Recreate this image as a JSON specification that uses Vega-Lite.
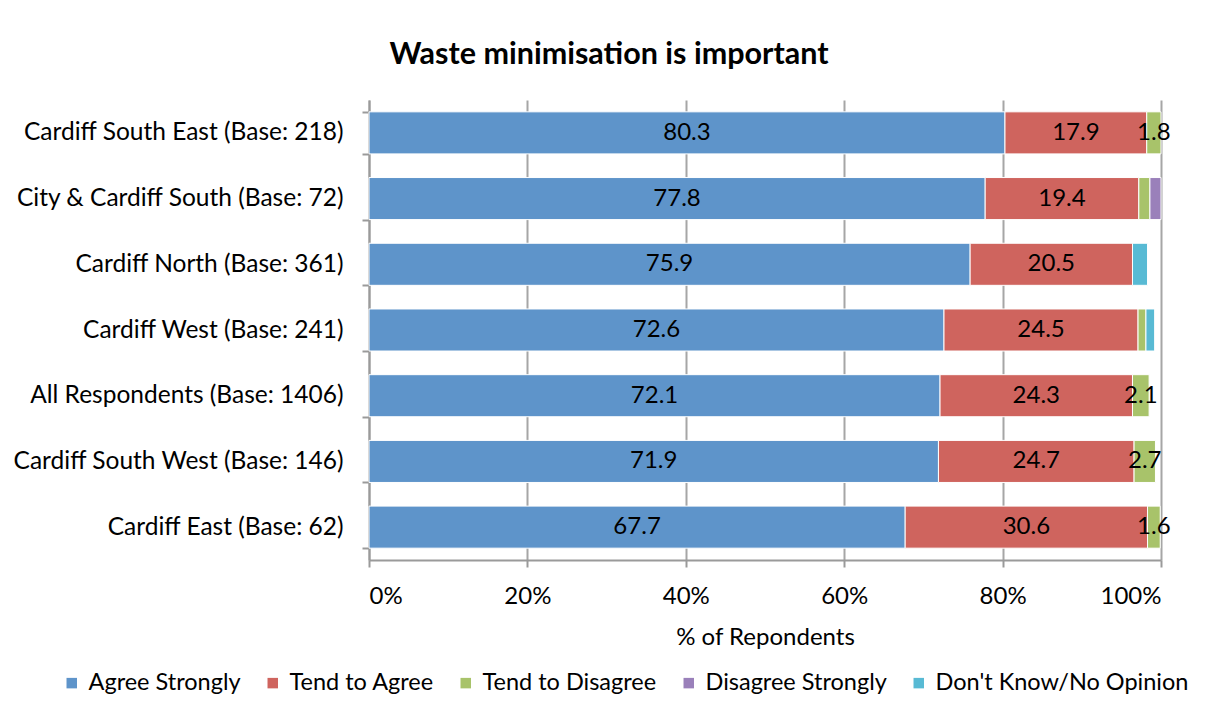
{
  "$schema": "https://vega.github.io/schema/vega-lite/v6.json",
  "width": 792,
  "height": 460,
  "autosize": {"type": "none"},
  "padding": {"left": 369, "top": 100, "right": 48, "bottom": 158},
  "background": "white",
  "title": {
    "text": "Waste minimisation is important",
    "font": "Lato",
    "fontSize": 30.5,
    "fontWeight": "bold",
    "color": "black",
    "anchor": "middle",
    "dx": -156,
    "offset": 17
  },
  "data": {
    "values": [
      {"region": "Cardiff South East (Base: 218)", "cat": "Agree Strongly", "value": 80.3},
      {"region": "Cardiff South East (Base: 218)", "cat": "Tend to Agree", "value": 17.9},
      {"region": "Cardiff South East (Base: 218)", "cat": "Tend to Disagree", "value": 1.8},
      {"region": "City & Cardiff South (Base: 72)", "cat": "Agree Strongly", "value": 77.8},
      {"region": "City & Cardiff South (Base: 72)", "cat": "Tend to Agree", "value": 19.4},
      {"region": "City & Cardiff South (Base: 72)", "cat": "Tend to Disagree", "value": 1.4},
      {"region": "City & Cardiff South (Base: 72)", "cat": "Disagree Strongly", "value": 1.4},
      {"region": "Cardiff North (Base: 361)", "cat": "Agree Strongly", "value": 75.9},
      {"region": "Cardiff North (Base: 361)", "cat": "Tend to Agree", "value": 20.5},
      {"region": "Cardiff North (Base: 361)", "cat": "Don't Know/No Opinion", "value": 1.9},
      {"region": "Cardiff West (Base: 241)", "cat": "Agree Strongly", "value": 72.6},
      {"region": "Cardiff West (Base: 241)", "cat": "Tend to Agree", "value": 24.5},
      {"region": "Cardiff West (Base: 241)", "cat": "Tend to Disagree", "value": 1.0},
      {"region": "Cardiff West (Base: 241)", "cat": "Don't Know/No Opinion", "value": 1.1},
      {"region": "All Respondents (Base: 1406)", "cat": "Agree Strongly", "value": 72.1},
      {"region": "All Respondents (Base: 1406)", "cat": "Tend to Agree", "value": 24.3},
      {"region": "All Respondents (Base: 1406)", "cat": "Tend to Disagree", "value": 2.1},
      {"region": "Cardiff South West (Base: 146)", "cat": "Agree Strongly", "value": 71.9},
      {"region": "Cardiff South West (Base: 146)", "cat": "Tend to Agree", "value": 24.7},
      {"region": "Cardiff South West (Base: 146)", "cat": "Tend to Disagree", "value": 2.7},
      {"region": "Cardiff East (Base: 62)", "cat": "Agree Strongly", "value": 67.7},
      {"region": "Cardiff East (Base: 62)", "cat": "Tend to Agree", "value": 30.6},
      {"region": "Cardiff East (Base: 62)", "cat": "Tend to Disagree", "value": 1.6}
    ]
  },
  "transform": [
    {"calculate": "indexof([\"Agree Strongly\",\"Tend to Agree\",\"Tend to Disagree\",\"Disagree Strongly\",\"Don't Know/No Opinion\"], datum.cat)", "as": "ord"},
    {"stack": "value", "groupby": ["region"], "sort": [{"field": "ord", "order": "ascending"}], "as": ["x0", "x1"]},
    {"calculate": "(datum.x0 + datum.x1) / 2", "as": "mid"}
  ],
  "encoding": {
    "y": {
      "field": "region",
      "type": "nominal",
      "sort": null,
      "scale": {"paddingInner": 0.36, "paddingOuter": 0.18},
      "axis": {
        "title": null,
        "labelFont": "Lato",
        "labelFontSize": 24.5,
        "labelColor": "black",
        "labelPadding": 19,
        "tickBand": "extent",
        "tickSize": 7,
        "tickColor": "#9a9a9a",
        "tickWidth": 2,
        "domainColor": "#9a9a9a",
        "domainWidth": 2,
        "labelLimit": 400
      }
    }
  },
  "layer": [
    {
      "mark": {"type": "bar", "stroke": "white", "strokeWidth": 1},
      "encoding": {
        "x": {
          "field": "x0",
          "type": "quantitative",
          "scale": {"domain": [0, 100], "nice": false},
          "axis": {
            "values": [0, 20, 40, 60, 80, 100],
            "labelExpr": "datum.value + '%'",
            "title": "% of Repondents",
            "titleFont": "Lato",
            "titleFontSize": 24,
            "titleFontWeight": "normal",
            "titleColor": "black",
            "titlePadding": 17,
            "labelFont": "Lato",
            "labelFontSize": 24,
            "labelColor": "black",
            "labelPadding": 17,
            "tickSize": 7,
            "tickColor": "#9a9a9a",
            "tickWidth": 2,
            "domainColor": "#9a9a9a",
            "domainWidth": 2,
            "grid": true,
            "gridColor": "#a6a6a6",
            "gridWidth": 2
          }
        },
        "x2": {"field": "x1"},
        "color": {
          "field": "cat",
          "type": "nominal",
          "scale": {
            "domain": ["Agree Strongly", "Tend to Agree", "Tend to Disagree", "Disagree Strongly", "Don't Know/No Opinion"],
            "range": ["#5e94ca", "#cf645e", "#a8c36a", "#9a80ba", "#58bad4"]
          },
          "legend": {
            "title": null,
            "orient": "none",
            "direction": "horizontal",
            "legendX": -309,
            "legendY": 571,
            "symbolType": "square",
            "symbolSize": 110,
            "symbolStrokeWidth": 0,
            "labelFont": "Lato",
            "labelFontSize": 23.5,
            "labelColor": "black",
            "labelOffset": 5,
            "columnPadding": 20,
            "labelLimit": 400
          }
        }
      }
    },
    {
      "mark": {"type": "text", "font": "Lato", "fontSize": 24, "color": "black", "align": "center", "baseline": "middle"},
      "transform": [{"filter": "datum.value >= 1.5 && datum.ord <= 2"}],
      "encoding": {
        "x": {"field": "mid", "type": "quantitative"},
        "text": {"field": "value", "type": "quantitative", "format": ".1f"}
      }
    }
  ],
  "config": {
    "view": {"stroke": null}
  }
}
